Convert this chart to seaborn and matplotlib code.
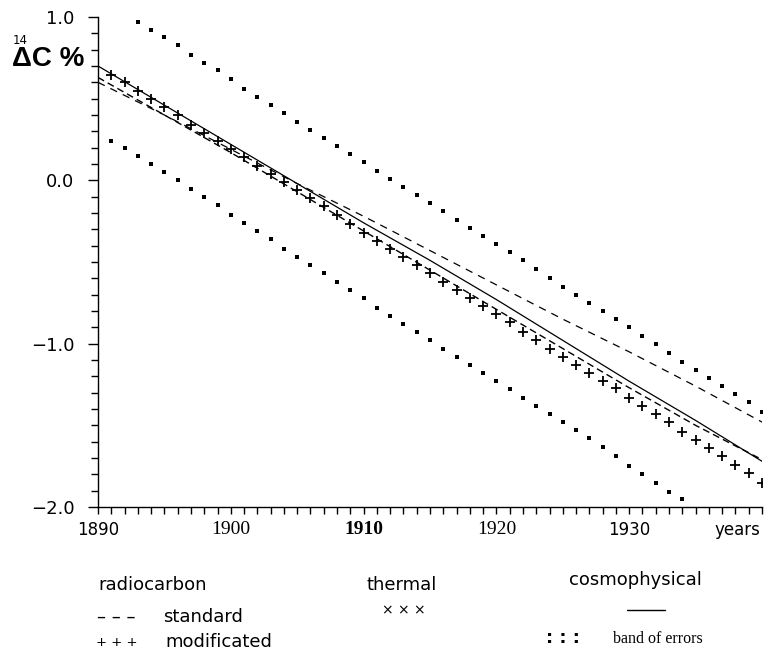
import matplotlib
matplotlib.use("Agg")
import matplotlib.pyplot as plt
import seaborn as sns
import pandas as pd
from matplotlib.lines import Line2D
from matplotlib.ticker import MultipleLocator

# ---------------- data ----------------
line_years = [1890, 1895, 1900, 1905, 1910, 1915, 1920, 1925, 1930, 1935, 1940]
cosmophysical = [0.70, 0.46, 0.22, -0.02, -0.26, -0.49, -0.73, -0.98, -1.23, -1.47, -1.72]
standard = [0.60, 0.40, 0.19, -0.02, -0.22, -0.43, -0.64, -0.85, -1.05, -1.26, -1.48]
thermal = [0.63, 0.40, 0.17, -0.07, -0.31, -0.55, -0.79, -1.03, -1.27, -1.50, -1.71]

mod_years = list(range(1891, 1941))
modificated = [0.645, 0.60, 0.55, 0.50, 0.45, 0.40, 0.34, 0.29, 0.24, 0.19,
               0.14, 0.09, 0.04, -0.01, -0.06, -0.11, -0.16, -0.21, -0.27, -0.32,
               -0.37, -0.42, -0.47, -0.52, -0.57, -0.62, -0.67, -0.72, -0.77, -0.82,
               -0.87, -0.93, -0.98, -1.03, -1.08, -1.13, -1.18, -1.23, -1.27, -1.33,
               -1.38, -1.43, -1.48, -1.54, -1.59, -1.64, -1.69, -1.74, -1.79, -1.85]

band_up_years = list(range(1893, 1941))
band_upper = [0.97, 0.92, 0.875, 0.83, 0.77, 0.72, 0.675, 0.62, 0.56, 0.51,
              0.46, 0.41, 0.36, 0.31, 0.26, 0.21, 0.16, 0.11, 0.06, 0.01,
              -0.04, -0.09, -0.14, -0.19, -0.24, -0.29, -0.34, -0.39, -0.44, -0.49,
              -0.54, -0.60, -0.65, -0.70, -0.75, -0.80, -0.85, -0.90, -0.955, -1.005,
              -1.06, -1.11, -1.16, -1.21, -1.26, -1.31, -1.36, -1.42]

band_lo_years = list(range(1891, 1935))
band_lower = [0.24, 0.195, 0.15, 0.10, 0.05, 0.0, -0.05, -0.10, -0.15, -0.21,
              -0.26, -0.31, -0.36, -0.42, -0.47, -0.52, -0.57, -0.62, -0.67, -0.72,
              -0.78, -0.83, -0.88, -0.93, -0.98, -1.03, -1.08, -1.13, -1.18, -1.23,
              -1.28, -1.33, -1.38, -1.43, -1.48, -1.53, -1.58, -1.63, -1.69, -1.75,
              -1.80, -1.85, -1.91, -1.95]

x_ticks = [1890, 1900, 1910, 1920, 1930]
x_tick_labels = ["1890", "1900", "1910", "1920", "1930"]
y_ticks = [1.0, 0.0, -1.0, -2.0]
y_tick_labels = ["1.0", "0.0", "\u22121.0", "\u22122.0"]

# ---------------- figure ----------------
sns.set_style("ticks")
plt.rcParams["font.family"] = ["DejaVu Sans"]
plt.rcParams["text.color"] = "black"
plt.rcParams["xtick.color"] = "black"
plt.rcParams["ytick.color"] = "black"

W, H = 764, 651
fig = plt.figure(figsize=(W / 100, H / 100), dpi=100)
ax = fig.add_axes([98 / W, 1 - 507 / H, (762 - 98) / W, (507 - 17) / H])

lines_df = pd.DataFrame({"year": line_years, "cosmo": cosmophysical,
                         "standard": standard, "thermal": thermal})
sns.lineplot(data=lines_df, x="year", y="cosmo", ax=ax, color="black", linewidth=0.9)
sns.lineplot(data=lines_df, x="year", y="standard", ax=ax, color="black",
             linewidth=0.9, linestyle=(0, (6, 5)))
sns.lineplot(data=lines_df, x="year", y="thermal", ax=ax, color="black",
             linewidth=1.0, linestyle=(0, (5, 3)))

mod_df = pd.DataFrame({"year": mod_years, "val": modificated})
sns.scatterplot(data=mod_df, x="year", y="val", ax=ax, marker="+", s=55,
                color="black", linewidth=1.3)

up_df = pd.DataFrame({"year": band_up_years, "val": band_upper})
lo_df = pd.DataFrame({"year": band_lo_years, "val": band_lower})
for d in (up_df, lo_df):
    sns.scatterplot(data=d, x="year", y="val", ax=ax, marker="s", s=6,
                    color="black", linewidth=0)

ax.set_xlim(1890, 1940)
ax.set_ylim(-2.0, 1.0)
ax.set_xlabel("")
ax.set_ylabel("")
for s in ("top", "right"):
    ax.spines[s].set_visible(False)
for s in ("left", "bottom"):
    ax.spines[s].set_linewidth(1.0)
    ax.spines[s].set_color("black")

ax.set_xticks(x_ticks)
ax.set_xticklabels(x_tick_labels)
ax.xaxis.set_minor_locator(MultipleLocator(1))
ax.set_yticks(y_ticks)
ax.set_yticklabels(y_tick_labels)
ax.yaxis.set_minor_locator(MultipleLocator(0.1))

ax.tick_params(axis="x", which="both", direction="out", length=5, width=1,
               color="black", labelcolor="black", pad=5, labelsize=12)
ax.tick_params(axis="y", which="major", direction="out", length=7, width=1,
               color="black", labelcolor="black", pad=10, labelsize=13)
ax.tick_params(axis="y", which="minor", direction="out", length=5, width=1,
               color="black")

fonts = [("DejaVu Sans", "normal"), ("Liberation Serif", "normal"),
         ("Liberation Serif", "bold"), ("Liberation Serif", "normal"),
         ("DejaVu Sans", "normal")]
for lab, (fam, wt) in zip(ax.get_xticklabels(), fonts):
    lab.set_fontfamily(fam)
    lab.set_fontweight(wt)
    if fam == "Liberation Serif":
        lab.set_fontsize(14)


def ft(x, y, s, **kw):
    kw.setdefault("color", "black")
    return fig.text(x / W, 1 - y / H, s, **kw)


ft(760, 530, "years", ha="right", va="center", fontsize=12)

# y-axis title
ft(12, 59, "\u0394C %", ha="left", va="center", fontsize=20,
   family="Liberation Sans", fontweight="bold")
ft(13, 40, "14", ha="left", va="center", fontsize=8.5)

# legend block
ft(98, 585, "radiocarbon", ha="left", va="center", fontsize=13)
ft(97, 617, "\u2013 \u2013 \u2013", ha="left", va="center", fontsize=13)
ft(96, 642, "+ + +", ha="left", va="center", fontsize=9.5)
ft(163, 617, "standard", ha="left", va="center", fontsize=13)
ft(165, 642, "modificated", ha="left", va="center", fontsize=13)

ft(402, 585, "thermal", ha="center", va="center", fontsize=13)
ft(404, 610, "\u00d7 \u00d7 \u00d7", ha="center", va="center", fontsize=10)

ft(635, 580, "cosmophysical", ha="center", va="center", fontsize=13)
fig.add_artist(Line2D([627 / W, 665 / W], [1 - 610 / H, 1 - 610 / H],
                      color="black", linewidth=1.0))
ft(563, 638, ": : :", ha="center", va="center", fontsize=13, fontweight="bold")
ft(613, 639, "band of errors", ha="left", va="center", fontsize=11.5,
   family="Liberation Serif")

fig.savefig("out.png", dpi=100)
